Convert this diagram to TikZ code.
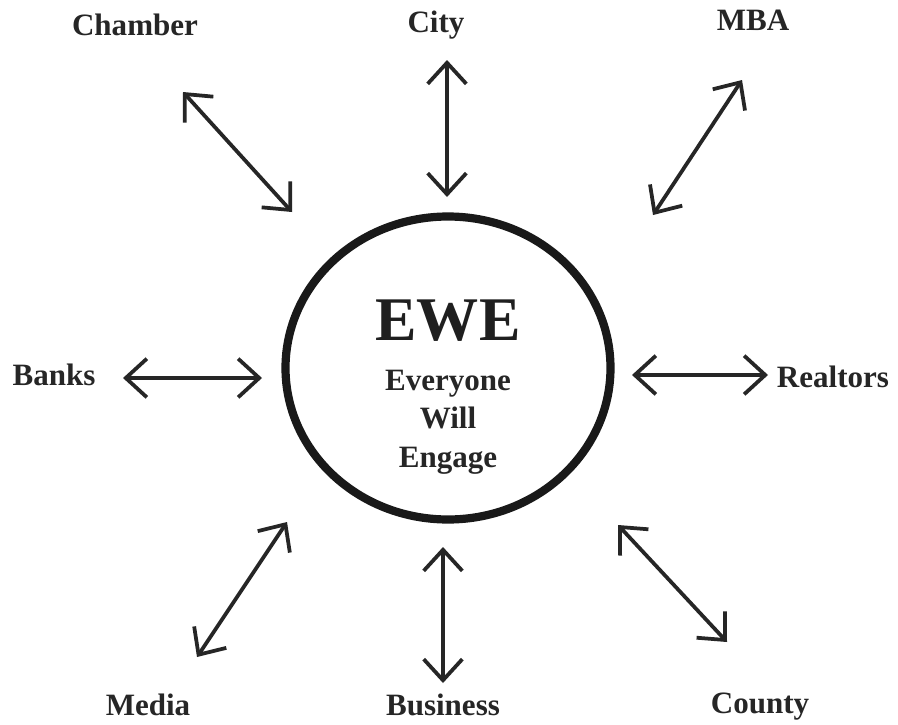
\documentclass[tikz,border=0pt]{standalone}
\usepackage{fontspec}
\setmainfont{Liberation Serif}
\usetikzlibrary{arrows.meta}

\tikzset{
  link/.style={line width=3.2pt, draw=black!85,
    {Straight Barb[length=18pt, width=33pt, line join=miter, line cap=butt]}-{Straight Barb[length=18pt, width=33pt, line join=miter, line cap=butt]}},
  partner/.style={anchor=base, text=black!85, font=\bfseries\fontsize{26.5}{32}\selectfont, inner sep=0pt}
}

\begin{document}
\begin{tikzpicture}[x=0.03cm, y=-0.03cm]
		%%%%% START %%%%%
		\useasboundingbox[fill=white] (0, 0) rectangle (898, 724);
		
		\draw[line width=7pt, draw=black!90] (448, 368) ellipse (162.5 and 151.5);
		\node[anchor=base, text=black!88, font=\bfseries\fontsize{53}{60}\selectfont, inner sep=0pt] (ewe) at (448, 340) {EWE};
		\node[partner] (everyone) at (448, 390) {Everyone};
		\node[partner] (will) at (448, 428) {Will};
		\node[partner] (engage) at (448, 467) {Engage};
		
		\node[partner] (chamber) at (135, 35) {Chamber};
		\node[partner] (city) at (436, 32) {City};
		\node[partner] (mba) at (753, 30) {MBA};
		\node[partner] (banks) at (54, 385) {Banks};
		\node[partner] (realtors) at (833, 387) {Realtors};
		\node[partner] (media) at (148, 715) {Media};
		\node[partner] (business) at (443, 715) {Business};
		\node[partner] (county) at (760, 713) {County};
		
		% arrow ends
		\coordinate (chamber-out) at (183, 92);
		\coordinate (chamber-in) at (292, 212);
		\coordinate (city-out) at (447, 60);
		\coordinate (city-in) at (447, 197);
		\coordinate (mba-out) at (742, 80);
		\coordinate (mba-in) at (653, 215);
		\coordinate (banks-out) at (123, 378);
		\coordinate (banks-in) at (262, 378);
		\coordinate (realtors-in) at (632, 375);
		\coordinate (realtors-out) at (768, 375);
		\coordinate (media-in) at (287, 522);
		\coordinate (media-out) at (197, 657);
		\coordinate (business-in) at (443, 547);
		\coordinate (business-out) at (443, 683);
		\coordinate (county-in) at (618, 525);
		\coordinate (county-out) at (727, 642);
		
		\draw[link] (chamber-out) -- (chamber-in);
		\draw[link] (city-out) -- (city-in);
		\draw[link] (mba-out) -- (mba-in);
		\draw[link] (banks-out) -- (banks-in);
		\draw[link] (realtors-in) -- (realtors-out);
		\draw[link] (media-in) -- (media-out);
		\draw[link] (business-in) -- (business-out);
		\draw[link] (county-in) -- (county-out);
		%%%%% END %%%%%
\end{tikzpicture}
\end{document}
